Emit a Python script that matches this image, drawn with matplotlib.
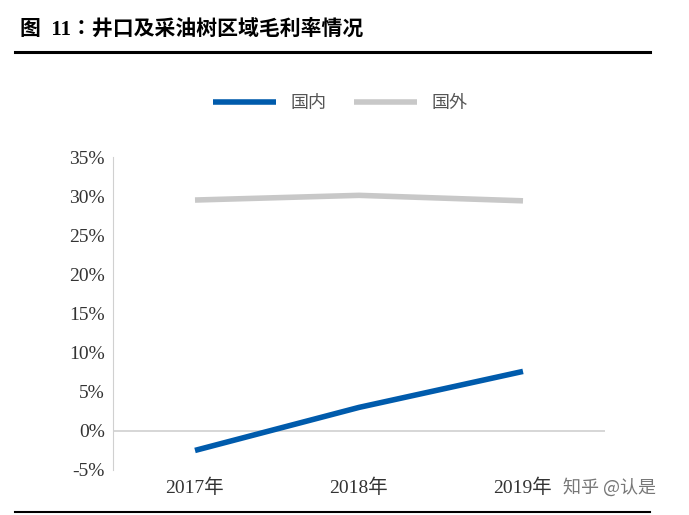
import matplotlib
matplotlib.use("Agg")
import matplotlib.pyplot as plt
from matplotlib.lines import Line2D
from matplotlib import font_manager as fm

categories = ["2017年", "2018年", "2019年"]
domestic = [-2.5, 3.0, 7.6]
overseas = [29.5, 30.1, 29.4]
yticks = [-5, 0, 5, 10, 15, 20, 25, 30, 35]

names = sorted({f.name for f in fm.fontManager.ttflist})
cjk = next((n for n in names if "CJK" in n and "SC" in n), None) or next((n for n in names if "CJK" in n), "DejaVu Sans")
fonts = ["Liberation Serif", cjk]
fig = plt.figure(figsize=(6.89, 5.15), dpi=100)
ax = fig.add_axes([113/689, 1-470/515, 492/689, 313/515])
x = range(len(categories))
ax.plot(x, domestic, color="#005BAC", lw=4, solid_capstyle="butt", label="国内")
ax.plot(x, overseas, color="#C8C8C8", lw=4, solid_capstyle="butt", label="国外")
ax.axhline(0, color="#D0D0D0", lw=1.2, zorder=0)
ax.set_xlim(-0.5, 2.5)
ax.set_ylim(-5, 35)
ax.set_yticks(yticks)
ax.set_yticklabels([f"{v}%" for v in yticks], fontfamily=fonts, fontsize=14, color="#333333")
ax.set_xticks(list(x))
ax.set_xticklabels(categories, fontfamily=fonts, fontsize=14, color="#333333")
ax.tick_params(length=0, pad=6)
for s in ["top", "right", "bottom"]:
    ax.spines[s].set_visible(False)
ax.spines["left"].set_color("#D0D0D0")
leg = fig.legend(loc="center", bbox_to_anchor=(340/689, 1-103/515), ncol=2, frameon=False,
                 prop={"family": cjk, "size": 13}, handlelength=3.5, columnspacing=1.5)
for t in leg.get_texts():
    t.set_color("#555555")

fig.text(20/689, 1-30/515, "图  11：井口及采油树区域毛利率情况", fontfamily=["Liberation Serif", cjk],
         fontweight="bold", fontsize=15, va="center", ha="left")
fig.add_artist(Line2D([15/689, 650/689], [1-52/515]*2, color="black", lw=2.2))
fig.add_artist(Line2D([15/689, 650/689], [1-512/515]*2, color="black", lw=1.5))
fig.text(563/689, 1-487/515, "知乎 @认是", fontfamily=cjk, fontsize=13, color="#777777", va="center")
fig.savefig("out.png", dpi=100)
